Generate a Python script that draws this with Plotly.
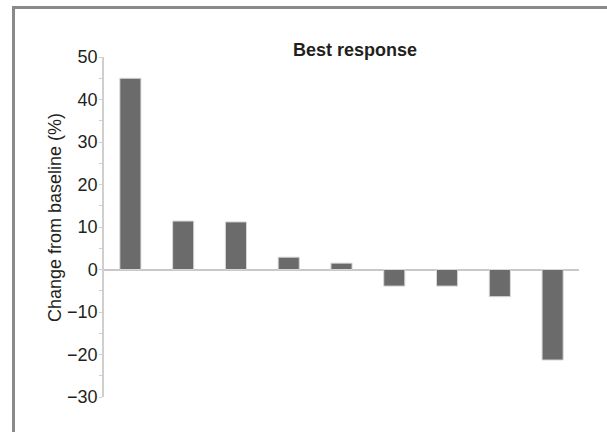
import plotly.graph_objects as go

categories = ["P1", "P2", "P3", "P4", "P5", "P6", "P7", "P8", "P9"]
values = [45.0, 11.4, 11.2, 2.9, 1.5, -3.9, -3.9, -6.4, -21.3]
tick_values = [-30, -20, -10, 0, 10, 20, 30, 40, 50]
tick_labels = ["\u221230", "\u221220", "\u221210", "0", "10", "20", "30", "40", "50"]

W, H = 607, 432
L, R, T, B = 104, 28, 57, 35
pw, ph = W - L - R, H - T - B

def px(x):
    return (x - L) / pw

def py(y):
    return (H - B - y) / ph

fig = go.Figure(go.Bar(
    x=categories, y=values, width=0.4,
    marker=dict(color="#6b6b6b", line=dict(color="#d8d8d8", width=1)),
))

font = "Liberation Sans, Arial, Helvetica, sans-serif"
fig.update_layout(
    width=W, height=H,
    margin=dict(l=L, r=R, t=T, b=B),
    paper_bgcolor="white", plot_bgcolor="white",
    showlegend=False,
    font=dict(family=font, size=18, color="#231f20"),
    bargap=0.6,
)
fig.update_xaxes(
    range=[-0.5, 8.5], showticklabels=False, ticks="", showline=False,
    showgrid=False, zeroline=False,
)
fig.update_yaxes(
    range=[-30, 50], tickvals=tick_values, ticktext=tick_labels,
    showline=True, linecolor="#cfcfcf", linewidth=1.5,
    ticks="outside", ticklen=3, tickcolor="#cfcfcf", tickwidth=1,
    minor=dict(dtick=5, ticks="outside", ticklen=3, tickcolor="#cfcfcf", tickwidth=1),
    showgrid=False, zeroline=True, zerolinecolor="#c8c8c8", zerolinewidth=2,
    tickfont=dict(size=18, color="#231f20"), ticklabelstandoff=-2,
)
fig.add_annotation(
    text="<b>Best response</b>", xref="paper", yref="paper",
    x=px(355), y=py(50), xanchor="center", yanchor="middle",
    showarrow=False, font=dict(size=18, color="#231f20", family=font),
)
fig.add_annotation(
    text="Change from baseline (%)", textangle=-90, xref="paper", yref="paper",
    x=px(54.5), y=py(217.5), xanchor="center", yanchor="middle",
    showarrow=False, font=dict(size=18, color="#231f20", family=font),
)
# outer frame (top and left edges visible)
fig.add_shape(type="line", xref="paper", yref="paper",
              x0=px(13), x1=px(W + 5), y0=py(7.5), y1=py(7.5),
              line=dict(color="#8a8a8a", width=3))
fig.add_shape(type="line", xref="paper", yref="paper",
              x0=px(13.5), x1=px(13.5), y0=py(6), y1=py(H + 5),
              line=dict(color="#8a8a8a", width=3))

fig.write_html("out.html", config={"displayModeBar": False},
               post_script="document.body.style.margin='0';document.body.style.overflow='hidden';")
